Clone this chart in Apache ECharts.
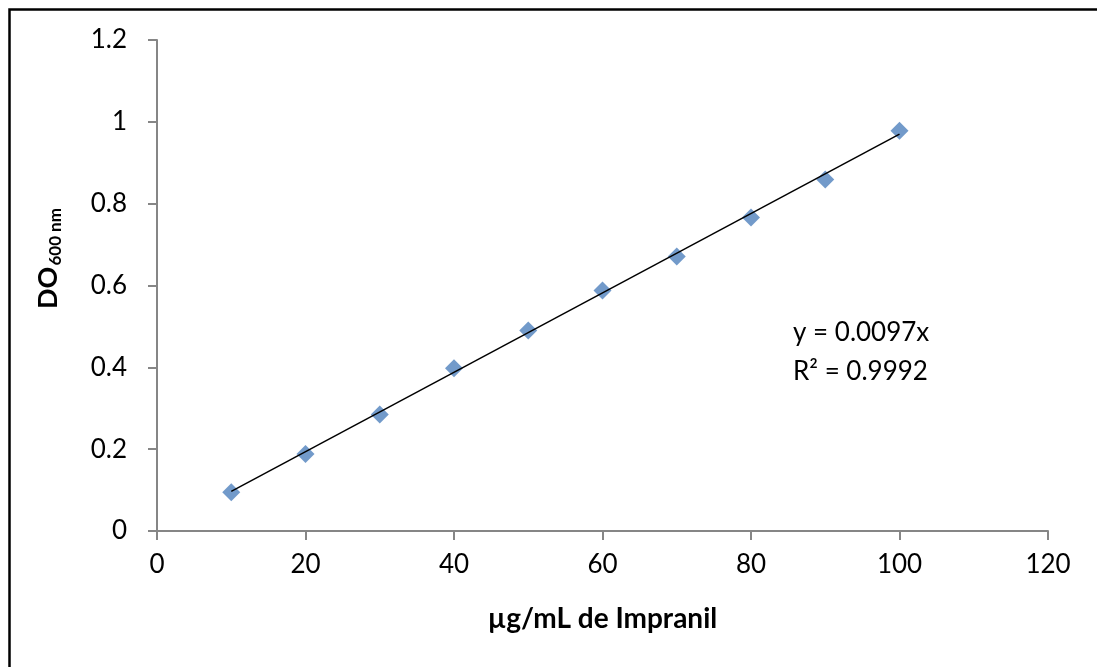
<!DOCTYPE html>
<html>
<head>
<meta charset="utf-8">
<script src="https://cdn.jsdelivr.net/npm/echarts@6/dist/echarts.min.js"></script>
<style>
html,body{margin:0;padding:0;background:#fff;}
#chart{width:1097px;height:667px;}
</style>
</head>
<body>
<div id="chart"></div>
<script>
// Data
const concentrations = [10, 20, 30, 40, 50, 60, 70, 80, 90, 100];
const absorbance = [0.095, 0.188, 0.285, 0.398, 0.490, 0.588, 0.671, 0.766, 0.859, 0.978];
const trendSlope = 0.0097;
const trendRange = [10, 100];
const equationText = 'y = 0.0097x';
const r2Text = 'R² = 0.9992';
const xAxisTitle = 'µg/mL de Impranil';
const yAxisTitleMain = 'DO';
const yAxisTitleSub = '600 nm';

const font = 'Lato, "Open Sans", sans-serif';
const chart = echarts.init(document.getElementById('chart'), null, {renderer: 'canvas'});

const points = concentrations.map((x, i) => [x, absorbance[i]]);
const trend = trendRange.map(x => [x, +(trendSlope * x).toFixed(4)]);

chart.setOption({
  animation: false,
  backgroundColor: '#ffffff',
  grid: {left: 157, right: 49, top: 40, bottom: 136, containLabel: false},
  xAxis: {
    type: 'value', min: 0, max: 120, interval: 20,
    name: xAxisTitle, nameLocation: 'middle', nameGap: 74,
    nameTextStyle: {fontFamily: font, fontWeight: 'bold', fontSize: 28, color: '#000'},
    axisLine: {show: true, lineStyle: {color: '#868686', width: 2}},
    axisTick: {show: true, inside: false, length: 9, lineStyle: {color: '#868686', width: 2}},
    axisLabel: {fontFamily: font, fontSize: 26, color: '#000', margin: 21},
    splitLine: {show: false}
  },
  yAxis: {
    type: 'value', min: 0, max: 1.2, interval: 0.2,
    name: '{m|' + yAxisTitleMain + '}{s|' + yAxisTitleSub + '}',
    nameLocation: 'middle', nameRotate: 90, nameGap: 93,
    nameTextStyle: {
      padding: [0, 0, 0, 54],
      rich: {
        m: {fontFamily: font, fontWeight: 'bold', fontSize: 27, color: '#000'},
        s: {fontFamily: font, fontWeight: 'bold', fontSize: 17, color: '#000', padding: [14, 0, 0, 1]}
      }
    },
    axisLine: {show: true, lineStyle: {color: '#868686', width: 2}},
    axisTick: {show: true, inside: false, length: 9, lineStyle: {color: '#868686', width: 2}},
    axisLabel: {fontFamily: font, fontSize: 26, color: '#000', margin: 30,
      formatter: v => String(+v.toFixed(1))},
    splitLine: {show: false}
  },
  graphic: [
    {type: 'rect', left: 7, top: 7, shape: {x: 0, y: 0, width: 1300, height: 1000},
     style: {fill: 'none', stroke: '#000', lineWidth: 2.5}, silent: true, z: 100},
    {type: 'text', left: 793, top: 313,
     style: {text: equationText + '\n' + r2Text, fontFamily: font, fontSize: 26, lineHeight: 39, fill: '#000'}}
  ],
  series: [
    {
      type: 'line', data: trend, showSymbol: false, symbol: 'none',
      lineStyle: {color: '#000', width: 1.5}, z: 3, silent: true
    },
    {
      type: 'scatter', data: points, symbol: 'diamond', symbolSize: 18,
      itemStyle: {color: '#4F81BD'}, z: 2
    }
  ]
});
</script>
</body>
</html>
